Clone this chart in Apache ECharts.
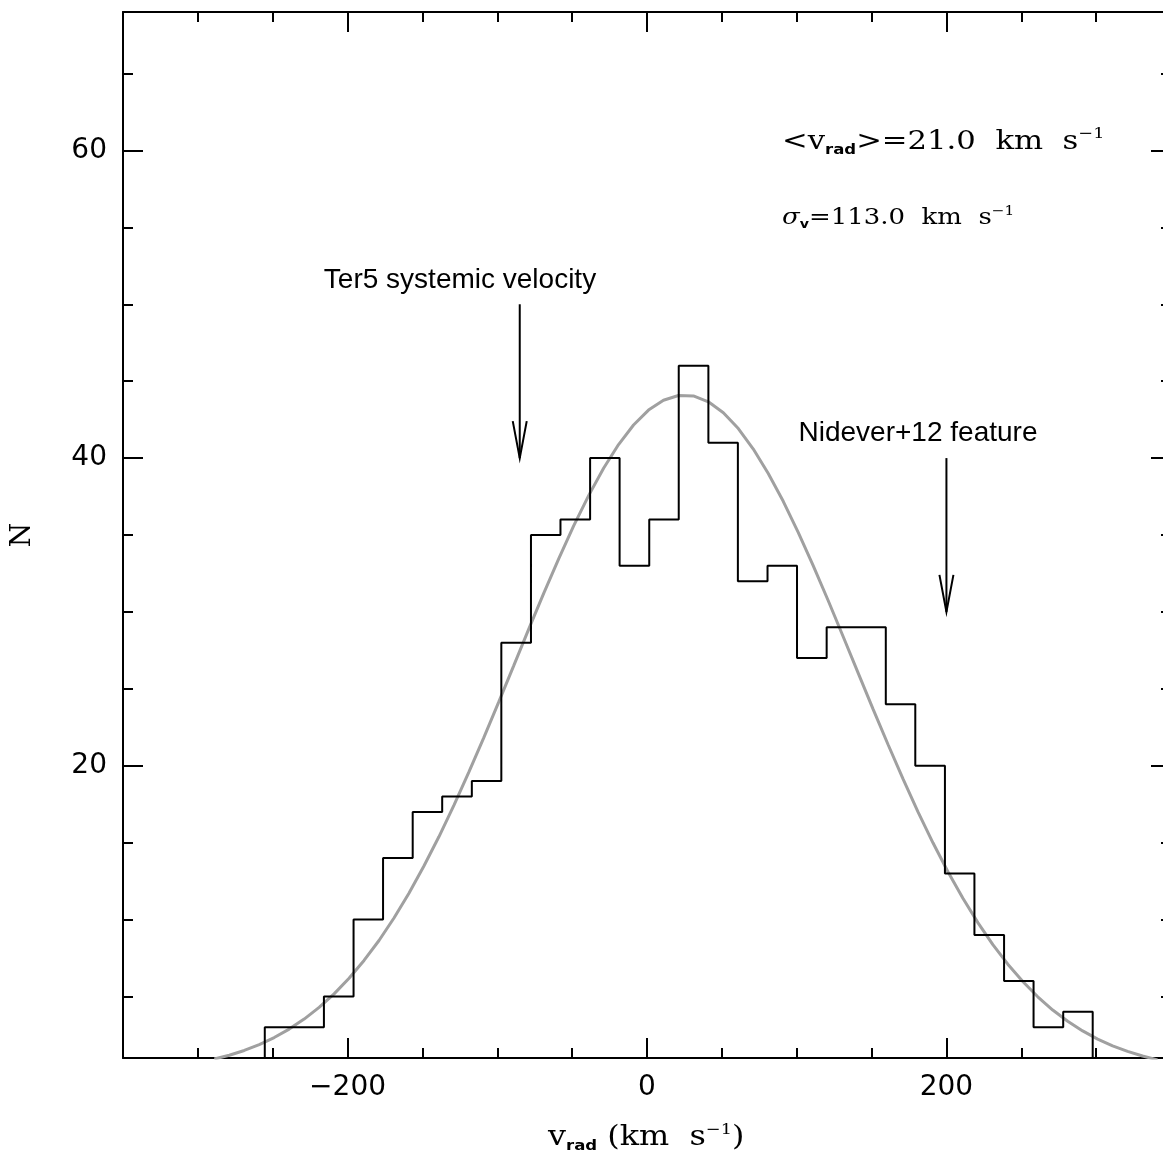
<!DOCTYPE html>
<html><head><meta charset="utf-8">
<script src="https://cdn.jsdelivr.net/npm/echarts@6/dist/echarts.min.js"></script>
<style>html,body{margin:0;padding:0;background:#fff;overflow:hidden}#c{width:1180px;height:1154px}</style>
</head><body><div id="c"></div>
<script>
// ---- data ----
const binEdges = [-255.3, -235.5, -215.8, -196.0, -176.3, -156.5, -136.8, -117.0, -97.3, -77.5,
  -57.8, -38.0, -18.3, 1.5, 21.2, 41.0, 60.7, 80.5, 100.2, 120.0, 139.7, 159.5, 179.2, 199.0,
  218.7, 238.5, 258.2, 278.0, 297.7];
const counts = [3, 3, 5, 10, 14, 17, 18, 19, 28, 35, 36, 40, 33, 36, 46, 41, 32, 33, 27, 29, 29,
  24, 20, 13, 9, 6, 3, 4];
const fitX = [-289, -279, -269, -259, -249, -239, -229, -219, -209, -199, -189, -179, -169, -159,
  -149, -139, -129, -119, -109, -99, -89, -79, -69, -59, -49, -39, -29, -19, -9, 1, 11, 21, 31,
  41, 51, 61, 71, 81, 91, 101, 111, 121, 131, 141, 151, 161, 171, 181, 191, 201, 211, 221, 231,
  241, 251, 261, 271, 281, 291, 301, 311, 321, 331, 341];
const fitN = [0.93, 1.18, 1.49, 1.87, 2.33, 2.88, 3.53, 4.29, 5.17, 6.18, 7.34, 8.64, 10.10, 11.71,
  13.48, 15.38, 17.42, 19.58, 21.83, 24.15, 26.51, 28.88, 31.20, 33.45, 35.59, 37.56, 39.34, 40.88,
  42.15, 43.12, 43.76, 44.07, 44.04, 43.66, 42.95, 41.92, 40.59, 39.00, 37.19, 35.17, 33.01, 30.74,
  28.40, 26.04, 23.68, 21.38, 19.14, 17.00, 14.99, 13.11, 11.38, 9.80, 8.37, 7.10, 5.97, 4.98, 4.12,
  3.39, 2.76, 2.23, 1.79, 1.43, 1.13, 0.88];
const xMajorTicks = [-200, 0, 200];
const xMinorTicks = [-300, -250, -150, -100, -50, 50, 100, 150, 250, 300];
const yMajorTicks = [20, 40, 60];
const yMinorTicks = [5, 10, 15, 25, 30, 35, 45, 50, 55, 65];
const arrowX = [-85, 200];
const arrowFrom = [50, 40];
const arrowTo = [40, 30];
const xRange = [-350, 350];
const yRange = [1, 69];

// ---- build histogram outline from bins ----
const histPath = [[binEdges[0], 0]];
counts.forEach((c, i) => { histPath.push([binEdges[i], c]); histPath.push([binEdges[i + 1], c]); });
histPath.push([binEdges[binEdges.length - 1], 0]);
const fitData = fitX.map((x, i) => [x, fitN[i]]);

const BLACK = '#000';
const minus = v => String(v).replace('-', '\u2212');
const tickStyle = { color: BLACK, width: 2 };
const labelFont = { fontFamily: 'DejaVu Sans', fontSize: 28, color: BLACK };

function axis(dim, pos, ticks, len, opts, showLine) {
  const r = dim === 'x' ? xRange : yRange;
  return Object.assign({
    type: 'value', position: pos, min: r[0], max: r[1],
    axisLine: { show: showLine !== false, onZero: false, lineStyle: { color: BLACK, width: 2 } },
    axisTick: { show: true, inside: true, length: len, customValues: ticks, lineStyle: tickStyle },
    axisLabel: { show: false },
    splitLine: { show: false }
  }, opts || {});
}

const serif = 'DejaVu Serif';
const SX = 1.18;
const chart = echarts.init(document.getElementById('c'), null, { renderer: 'canvas' });
chart.setOption({
  animation: false,
  backgroundColor: '#fff',
  grid: { left: 123, top: 12, width: 1048, height: 1046, containLabel: false },
  xAxis: [
    axis('x', 'bottom', xMajorTicks, 20, {
      axisLabel: Object.assign({ show: true, customValues: xMajorTicks, margin: 16, formatter: minus }, labelFont)
    }),
    axis('x', 'bottom', xMinorTicks, 10, null, false),
    axis('x', 'top', xMajorTicks, 20),
    axis('x', 'top', xMinorTicks, 10, null, false)
  ],
  yAxis: [
    axis('y', 'left', yMajorTicks, 20, {
      axisLabel: Object.assign({ show: true, customValues: yMajorTicks, margin: 16, padding: [7, 0, 0, 0], formatter: minus }, labelFont),
      name: 'N', nameLocation: 'middle', nameGap: 86,
      nameTextStyle: { fontFamily: serif, fontSize: 28, color: BLACK }
    }),
    axis('y', 'left', yMinorTicks, 10, null, false),
    axis('y', 'right', yMajorTicks, 20),
    axis('y', 'right', yMinorTicks, 10, null, false)
  ],
  series: [
    {
      type: 'line', data: fitData, smooth: false, showSymbol: false, clip: true,
      lineStyle: { color: '#a0a0a0', width: 3 }, z: 3, silent: true
    },
    {
      type: 'line', data: histPath, showSymbol: false, clip: true,
      lineStyle: { color: BLACK, width: 2 }, z: 4, silent: true
    },
    {
      type: 'custom', silent: true, z: 5, clip: false,
      data: arrowX.map((x, i) => [x, arrowFrom[i], arrowTo[i]]),
      renderItem: (params, api) => {
        const p0 = api.coord([api.value(0), api.value(1)]);
        const p1 = api.coord([api.value(0), api.value(2)]);
        return {
          type: 'group', children: [
            { type: 'line', shape: { x1: p0[0], y1: p0[1], x2: p1[0], y2: p1[1] }, style: { stroke: BLACK, lineWidth: 2 } },
            { type: 'polyline', shape: { points: [[p1[0] - 7, p1[1] - 37], [p1[0], p1[1]], [p1[0] + 7, p1[1] - 37]] },
              style: { stroke: BLACK, lineWidth: 2, fill: null } }
          ]
        };
      }
    }
  ],
  graphic: [
    { type: 'text', x: 460, y: 280, style: { text: 'Ter5 systemic velocity', fontFamily: 'Liberation Sans', fontSize: 28, fill: BLACK, align: 'center', verticalAlign: 'middle' } },
    { type: 'text', x: 918, y: 433, style: { text: 'Nidever+12 feature', fontFamily: 'Liberation Sans', fontSize: 28, fill: BLACK, align: 'center', verticalAlign: 'middle' } },
    { type: 'text', x: 782, y: 142, scaleX: SX, style: {
        text: '{m|<v}{sub|rad}{m|>=21.0  km  s}{sup|\u22121}', align: 'left', verticalAlign: 'middle',
        rich: {
          m: { fontFamily: serif, fontSize: 26, lineHeight: 30, fill: BLACK },
          sub: { fontFamily: 'DejaVu Sans', fontWeight: 'bold', fontSize: 14, lineHeight: 2, verticalAlign: 'bottom', fill: BLACK },
          sup: { fontFamily: serif, fontSize: 15, lineHeight: 20, verticalAlign: 'top', fill: BLACK }
        } } },
    { type: 'text', x: 782, y: 218, scaleX: SX, style: {
        text: '{g|\u03c3}{sub|v}{m|=113.0  km  s}{sup|\u22121}', align: 'left', verticalAlign: 'middle',
        rich: {
          g: { fontFamily: serif, fontStyle: 'italic', fontSize: 22, lineHeight: 26, fill: BLACK },
          m: { fontFamily: serif, fontSize: 22, lineHeight: 26, fill: BLACK },
          sub: { fontFamily: 'DejaVu Sans', fontWeight: 'bold', fontSize: 12, lineHeight: 2, verticalAlign: 'bottom', fill: BLACK },
          sup: { fontFamily: serif, fontSize: 13, lineHeight: 16, verticalAlign: 'top', fill: BLACK }
        } } },
    { type: 'text', x: 548, y: 1138, scaleX: SX, style: {
        text: '{m|v}{sub|rad}{m| (km  s}{sup|\u22121}{m|)}', align: 'left', verticalAlign: 'middle',
        rich: {
          m: { fontFamily: serif, fontSize: 27, lineHeight: 30, fill: BLACK },
          sub: { fontFamily: 'DejaVu Sans', fontWeight: 'bold', fontSize: 14, lineHeight: 2, verticalAlign: 'bottom', fill: BLACK },
          sup: { fontFamily: serif, fontSize: 15, lineHeight: 18, verticalAlign: 'top', fill: BLACK }
        } } }
  ]
});
</script>
</body></html>
